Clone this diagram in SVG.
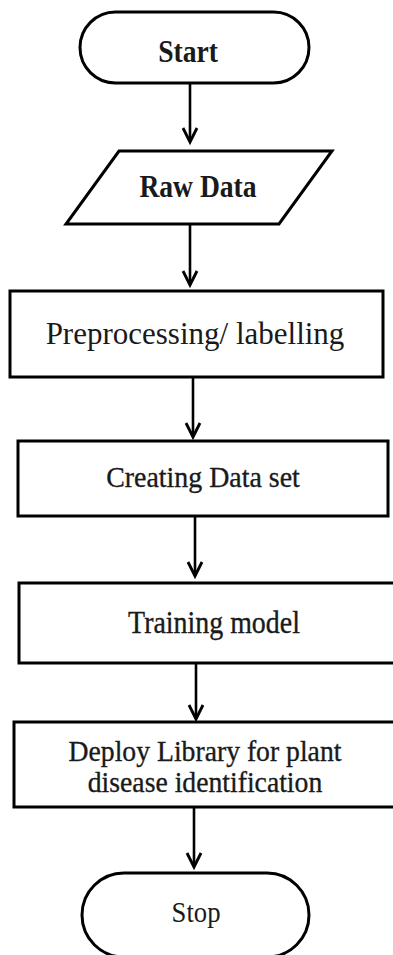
<svg xmlns="http://www.w3.org/2000/svg" width="393" height="955" viewBox="0 0 393 955">
<style>
.shape{fill:#fff;stroke:#000;stroke-width:3}
.t{font-family:"Liberation Serif","Times New Roman",serif;fill:#1a1a1a;text-anchor:middle}
.b{font-weight:bold}
.h{stroke:#1a1a1a;stroke-width:0.35}
.edge{stroke:#000;stroke-width:2.6;fill:none}
.head{stroke:#000;stroke-width:2.8;fill:none;stroke-linejoin:miter}
</style>
<rect width="393" height="955" fill="#fff"/>
<g id="connectors">
<line class="edge" x1="190" y1="83" x2="190" y2="142"/><path class="head" d="M183,128 L190,142 L197,128"/>
<line class="edge" x1="190" y1="224" x2="190" y2="285"/><path class="head" d="M183,271 L190,285 L197,271"/>
<line class="edge" x1="193" y1="377" x2="193" y2="437"/><path class="head" d="M186,423 L193,437 L200,423"/>
<line class="edge" x1="195" y1="516" x2="195" y2="576"/><path class="head" d="M188,562 L195,576 L202,562"/>
<line class="edge" x1="196" y1="663" x2="196" y2="719"/><path class="head" d="M189,705 L196,719 L203,705"/>
<line class="edge" x1="194" y1="807" x2="194" y2="867"/><path class="head" d="M187,853 L194,867 L201,853"/>
</g>
<g id="start">
<rect class="shape" x="80" y="12" width="229" height="71" rx="35.5"/>
<text class="t b" transform="translate(188,62) scale(0.89,1)" font-size="31">Start</text>
</g>
<g id="raw-data">
<polygon class="shape" points="119,151 332,151 279,224 66,224"/>
<text class="t b" transform="translate(198,197) scale(0.89,1)" font-size="31">Raw Data</text>
</g>
<g id="preprocessing">
<rect class="shape" x="10" y="291" width="373" height="86"/>
<text class="t" transform="translate(195,344)" font-size="31">Preprocessing/ labelling</text>
</g>
<g id="creating">
<rect class="shape" x="18" y="441" width="370" height="75"/>
<text class="t h" transform="translate(203,487) scale(0.93,1)" font-size="30">Creating Data set</text>
</g>
<g id="training">
<rect class="shape" x="19" y="583" width="380" height="80"/>
<text class="t h" transform="translate(214,633) scale(0.9,1)" font-size="31">Training model</text>
</g>
<g id="deploy">
<rect class="shape" x="14" y="722" width="385" height="85"/>
<text class="t h" transform="translate(205,761) scale(0.923,1)" font-size="30">Deploy Library for plant</text>
<text class="t h" transform="translate(205,792) scale(0.923,1)" font-size="30">disease identification</text>
</g>
<g id="stop">
<rect class="shape" x="82" y="873" width="227" height="84" rx="42"/>
<text class="t" transform="translate(196,922) scale(0.89,1)" font-size="30">Stop</text>
</g>
</svg>
